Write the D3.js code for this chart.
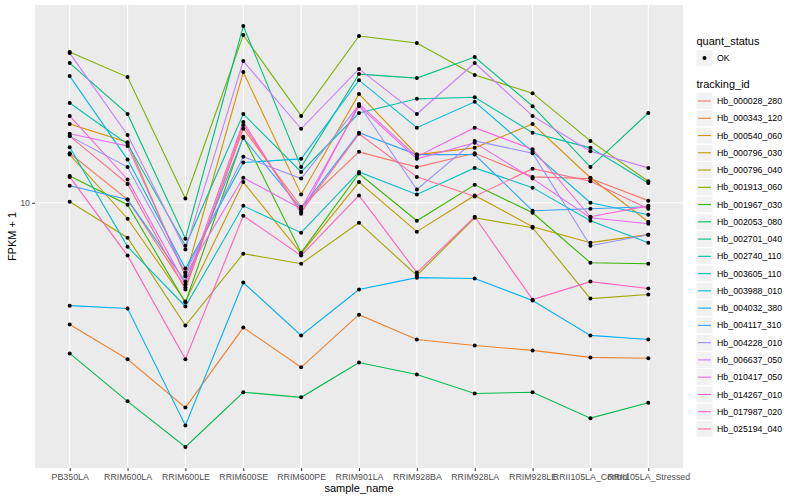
<!DOCTYPE html>
<html>
<head>
<meta charset="utf-8">
<script src="https://cdn.jsdelivr.net/npm/d3@7/dist/d3.min.js"></script>
<style>
  body { margin: 0; background: #ffffff; }
  text { font-family: "Liberation Sans", Arial, Helvetica, sans-serif; }
</style>
</head>
<body>
<div id="chart"></div>
<script>
// sample names on the x axis
var samples = ["PB350LA", "RRIM600LA", "RRIM600LE", "RRIM600SE", "RRIM600PE", "RRIM901LA",
  "RRIM928BA", "RRIM928LA", "RRIM928LE", "RRII105LA_Control", "RRII105LA_Stressed"];

var trackingIds = ["Hb_000028_280", "Hb_000343_120", "Hb_000540_060", "Hb_000796_030", "Hb_000796_040",
  "Hb_001913_060", "Hb_001967_030", "Hb_002053_080", "Hb_002701_040", "Hb_002740_110",
  "Hb_003605_110", "Hb_003988_010", "Hb_004032_380", "Hb_004117_310", "Hb_004228_010",
  "Hb_006637_050", "Hb_010417_050", "Hb_014267_010", "Hb_017987_020", "Hb_025194_040"];

// FPKM + 1 per sample
var Hb_000028_280 = [15.8, 10.3, 4.57, 19.8, 9.64, 16.0, 13.9, 15.8, 12.7, 12.5, 10.2];
var Hb_000343_120 = [3.25, 2.36, 1.51, 3.16, 2.19, 3.56, 2.83, 2.68, 2.56, 2.40, 2.38];
var Hb_000540_060 = [20.7, 17.5, 5.06, 33.4, 10.8, 27.3, 15.6, 16.6, 20.7, 12.6, 8.39];
var Hb_000796_030 = [15.6, 8.63, 4.02, 12.1, 6.25, 12.1, 7.66, 10.7, 8.02, 6.92, 7.45];
var Hb_000796_040 = [10.1, 7.24, 3.22, 6.25, 5.70, 8.32, 5.11, 8.71, 7.94, 4.13, 4.29];
var Hb_001913_060 = [40.2, 31.9, 10.4, 47.0, 22.3, 46.6, 43.7, 32.5, 27.5, 17.7, 12.2];
var Hb_001967_030 = [12.8, 9.82, 3.98, 18.4, 6.31, 13.1, 8.47, 11.8, 9.12, 5.75, 5.70];
var Hb_002053_080 = [2.49, 1.60, 1.05, 1.74, 1.66, 2.29, 2.05, 1.72, 1.74, 1.37, 1.58];
var Hb_002701_040 = [36.3, 22.7, 7.18, 51.1, 13.9, 32.8, 31.6, 38.4, 24.4, 13.9, 22.9];
var Hb_002740_110 = [25.1, 17.2, 6.73, 22.7, 13.3, 22.9, 26.1, 26.5, 19.1, 16.6, 12.0];
var Hb_003605_110 = [16.7, 6.67, 3.84, 9.72, 7.59, 13.3, 10.8, 13.8, 11.5, 8.47, 6.92];
var Hb_003988_010 = [32.2, 14.9, 5.45, 14.5, 15.0, 31.0, 20.0, 25.4, 16.0, 10.0, 8.95];
var Hb_004032_380 = [3.87, 3.77, 1.28, 4.79, 2.94, 4.49, 5.01, 4.97, 4.06, 2.94, 2.83];
var Hb_004117_310 = [11.7, 10.3, 4.83, 18.2, 9.46, 19.1, 15.6, 15.6, 9.29, 9.46, 9.64];
var Hb_004228_010 = [18.5, 13.9, 5.25, 15.3, 12.5, 24.7, 11.3, 17.7, 15.8, 6.73, 7.45];
var Hb_006637_050 = [39.8, 18.7, 6.49, 37.0, 19.8, 34.4, 22.7, 36.3, 22.3, 16.1, 13.8];
var Hb_010417_050 = [18.9, 16.9, 5.15, 12.6, 9.46, 24.4, 15.0, 17.4, 12.5, 8.71, 8.24];
var Hb_014267_010 = [22.3, 12.4, 4.70, 21.1, 9.04, 24.9, 15.3, 20.0, 16.4, 8.79, 9.72];
var Hb_017987_020 = [12.7, 6.14, 2.36, 8.87, 6.14, 10.7, 5.25, 8.79, 4.09, 4.83, 4.53];
var Hb_025194_040 = [18.5, 11.9, 4.49, 20.5, 9.20, 18.9, 12.7, 10.6, 13.7, 12.2, 9.46];

var seriesValues = [Hb_000028_280, Hb_000343_120, Hb_000540_060, Hb_000796_030, Hb_000796_040,
  Hb_001913_060, Hb_001967_030, Hb_002053_080, Hb_002701_040, Hb_002740_110,
  Hb_003605_110, Hb_003988_010, Hb_004032_380, Hb_004117_310, Hb_004228_010,
  Hb_006637_050, Hb_010417_050, Hb_014267_010, Hb_017987_020, Hb_025194_040];

// ggplot default hue palette for 20 groups
var palette = ["#F8766D", "#EA8331", "#D89000", "#C09B00", "#A3A500", "#7CAE00", "#39B600",
  "#00BB4E", "#00BF7D", "#00C1A3", "#00BFC4", "#00BAE0", "#00B0F6", "#35A2FF", "#9590FF",
  "#C77CFF", "#E76BF3", "#FA62DB", "#FF62BC", "#FF6C91"];

var width = 800;
var height = 500;

// panel edges
var panelLeft = 35;
var panelRight = 683;
var panelTop = 5;
var panelBottom = 468;

var svg = d3
  .select("#chart")
  .append("svg")
  .attr("width", width)
  .attr("height", height);

// build rows for the lines
var data = trackingIds.map(function (id, i) {
  return {
    id: id,
    values: samples.map(function (s, j) {
      return { sample: s, value: seriesValues[i][j] };
    })
  };
});

// log10 scale with ggplot-like 5% expansion
var allValues = d3.merge(seriesValues);
var logMin = Math.log10(d3.min(allValues));
var logMax = Math.log10(d3.max(allValues));
var pad = (logMax - logMin) * 0.05;

var yScale = d3
  .scaleLog()
  .domain([Math.pow(10, logMin - pad), Math.pow(10, logMax + pad)])
  .range([panelBottom, panelTop]);

var xScale = d3
  .scalePoint()
  .domain(samples)
  .range([panelLeft, panelRight])
  .padding(0.6);

var color = d3.scaleOrdinal().domain(trackingIds).range(palette);

// Panel background
svg
  .append("rect")
  .attr("x", panelLeft)
  .attr("y", panelTop)
  .attr("width", panelRight - panelLeft)
  .attr("height", panelBottom - panelTop)
  .attr("fill", "#EBEBEB");

// grid lines
svg
  .append("g")
  .selectAll("line")
  .data(samples)
  .enter()
  .append("line")
  .attr("x1", function (d) { return xScale(d); })
  .attr("x2", function (d) { return xScale(d); })
  .attr("y1", panelTop)
  .attr("y2", panelBottom)
  .attr("stroke", "#ffffff")
  .attr("stroke-width", 1.1);

svg
  .append("line")
  .attr("x1", panelLeft)
  .attr("x2", panelRight)
  .attr("y1", yScale(10))
  .attr("y2", yScale(10))
  .attr("stroke", "#ffffff")
  .attr("stroke-width", 1.1);

// Lines
var line = d3
  .line()
  .x(function (d) { return xScale(d.sample); })
  .y(function (d) { return yScale(d.value); });

svg
  .append("g")
  .selectAll("path")
  .data(data)
  .enter()
  .append("path")
  .attr("d", function (d) { return line(d.values); })
  .attr("fill", "none")
  .attr("stroke", function (d) { return color(d.id); })
  .attr("stroke-width", 1.1);

// Points
svg
  .append("g")
  .selectAll("circle")
  .data(d3.merge(data.map(function (d) { return d.values; })))
  .enter()
  .append("circle")
  .attr("cx", function (d) { return xScale(d.sample); })
  .attr("cy", function (d) { return yScale(d.value); })
  .attr("r", 2)
  .attr("fill", "#000000");

// Axes
var xAxis = d3.axisBottom(xScale).tickSize(3).tickPadding(3);
var yAxis = d3.axisLeft(yScale).tickValues([10]).tickFormat(d3.format("d")).tickSize(3).tickPadding(2);

var gx = svg
  .append("g")
  .attr("transform", "translate(0," + panelBottom + ")")
  .call(xAxis);

var gy = svg
  .append("g")
  .attr("transform", "translate(" + panelLeft + ",0)")
  .call(yAxis);

[gx, gy].forEach(function (g) {
  g.select(".domain").remove();
  g.selectAll(".tick line").attr("stroke", "#333333");
  g.selectAll(".tick text")
    .attr("fill", "#4D4D4D")
    .attr("font-size", 8.8)
    .attr("font-family", "Liberation Sans, Arial, sans-serif");
});

// axis titles
svg
  .append("text")
  .attr("x", (panelLeft + panelRight) / 2)
  .attr("y", 492)
  .attr("text-anchor", "middle")
  .attr("font-size", 11)
  .attr("fill", "#000000")
  .text("sample_name");

svg
  .append("text")
  .attr("transform", "translate(16," + (panelTop + panelBottom) / 2 + ")rotate(-90)")
  .attr("text-anchor", "middle")
  .attr("font-size", 11)
  .attr("fill", "#000000")
  .text("FPKM + 1");

// Legend
var legendX = 696.5;
var keySize = 16;

var legend = svg.append("g");

legend
  .append("text")
  .attr("x", legendX)
  .attr("y", 45)
  .attr("font-size", 11)
  .text("quant_status");

legend
  .append("rect")
  .attr("x", legendX)
  .attr("y", 50)
  .attr("width", keySize)
  .attr("height", keySize)
  .attr("fill", "#F2F2F2");

legend
  .append("circle")
  .attr("cx", legendX + keySize / 2)
  .attr("cy", 58)
  .attr("r", 2)
  .attr("fill", "#000000");

legend
  .append("text")
  .attr("x", legendX + 20.5)
  .attr("y", 58)
  .attr("dy", "0.35em")
  .attr("font-size", 8.8)
  .text("OK");

legend
  .append("text")
  .attr("x", legendX)
  .attr("y", 88)
  .attr("font-size", 11)
  .text("tracking_id");

var keys = legend
  .selectAll("g.key")
  .data(trackingIds)
  .enter()
  .append("g")
  .attr("class", "key")
  .attr("transform", function (d, i) {
    return "translate(" + legendX + "," + (101 + i * 17.26) + ")";
  });

keys
  .append("rect")
  .attr("x", 0)
  .attr("y", -keySize / 2)
  .attr("width", keySize)
  .attr("height", keySize)
  .attr("fill", "#F2F2F2");

keys
  .append("line")
  .attr("x1", 1.5)
  .attr("x2", keySize - 1.5)
  .attr("y1", 0)
  .attr("y2", 0)
  .attr("stroke", function (d) { return color(d); })
  .attr("stroke-width", 1.1);

keys
  .append("text")
  .attr("x", 20.5)
  .attr("y", 0)
  .attr("dy", "0.35em")
  .attr("font-size", 8.8)
  .text(function (d) { return d; });
</script>
</body>
</html>
